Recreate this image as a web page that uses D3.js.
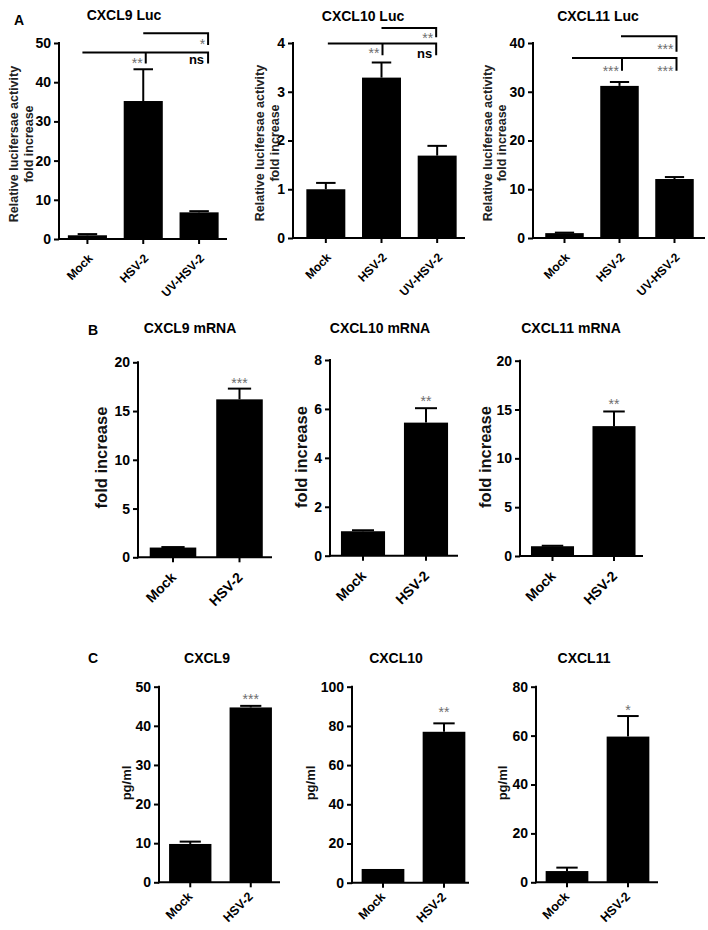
<!DOCTYPE html>
<html><head><meta charset="utf-8">
<script src="https://cdn.jsdelivr.net/npm/d3@7"></script>
<style>
body{margin:0;background:#fff}
svg{display:block}
text{font-family:"Liberation Sans",Arial,sans-serif}
</style>
</head><body>
<svg id="chart" width="708" height="930"></svg>
<script>
// ---------------- DATA ----------------
const lucCategories  = ["Mock", "HSV-2", "UV-HSV-2"];
const pairCategories = ["Mock", "HSV-2"];

// Row A: luciferase reporter (fold increase)
const cxcl9LucMean  = [0.95, 35.2, 6.8];
const cxcl9LucErr   = [0.3, 8.1, 0.3];
const cxcl10LucMean = [1.0, 3.29, 1.69];
const cxcl10LucErr  = [0.13, 0.31, 0.20];
const cxcl11LucMean = [1.0, 31.2, 12.1];
const cxcl11LucErr  = [0.1, 0.8, 0.4];

// Row B: mRNA (fold increase)
const cxcl9MrnaMean  = [1.0, 16.2];
const cxcl9MrnaErr   = [0.05, 1.1];
const cxcl10MrnaMean = [1.0, 5.44];
const cxcl10MrnaErr  = [0.04, 0.59];
const cxcl11MrnaMean = [1.0, 13.3];
const cxcl11MrnaErr  = [0.05, 1.5];

// Row C: protein (pg/ml)
const cxcl9ProtMean  = [9.8, 44.7];
const cxcl9ProtErr   = [0.6, 0.4];
const cxcl10ProtMean = [7.0, 77.0];
const cxcl10ProtErr  = [0.0, 4.3];
const cxcl11ProtMean = [4.6, 59.6];
const cxcl11ProtErr  = [1.4, 8.4];

// Tick labels
const ticksLuc9  = [0, 10, 20, 30, 40, 50];
const ticksLuc10 = [0, 1, 2, 3, 4];
const ticksLuc11 = [0, 10, 20, 30, 40];
const ticksMrna9  = [0, 5, 10, 15, 20];
const ticksMrna10 = [0, 2, 4, 6, 8];
const ticksMrna11 = [0, 5, 10, 15, 20];
const ticksProt9  = [0, 10, 20, 30, 40, 50];
const ticksProt10 = [0, 20, 40, 60, 80, 100];
const ticksProt11 = [0, 20, 40, 60, 80];

// Significance (bracket levels in data units)
const sigLuc9  = {top: {level: 52.5, drop: 49.5, label: "*"},   low: {level: 47.6, drop: 44.8, left: "**",  right: "ns"}};
const sigLuc10 = {top: {level: 4.31, drop: 4.12, label: "**"},  low: {level: 3.99, drop: 3.75, left: "**",  right: "ns"}};
const sigLuc11 = {top: {level: 41.4, drop: 38.2, label: "***"}, low: {level: 36.9, drop: 34.3, left: "***", right: "***"}};
const sigMrna = ["***", "**", "**"];
const sigProt = ["***", "**", "*"];

// ---------------- LAYOUT ----------------
const rowA = {tickFs: 14, xFs: 12, xdx: 6, xdy: 20, ylFs: 12.5};
const rowB = {tickFs: 14, xFs: 14, xdx: 4, xdy: 21, ylFs: 16.5};
const rowC = {tickFs: 14, xFs: 12.5, xdx: 3, xdy: 15, ylFs: 13};

const panels = [
  {row: rowA, title: "CXCL9 Luc",  tx: 124, ty: 20, cats: lucCategories, mean: cxcl9LucMean,  err: cxcl9LucErr,  ticks: ticksLuc9,
   axisX: 59, xEnd: 227, yTop: 43, y0: 239, band: [59.5, 227],
   ylab: ["Relative lucifersae activity", "fold increase"], ylx: [14, 29], yly: 144,
   sig: sigLuc9, br: {topL: 0, right: 9, lowL: -5, tick: 2.5, starOff: 15.5, nsOff: 11.7}},
  {row: rowA, title: "CXCL10 Luc", tx: 363, ty: 21, cats: lucCategories, mean: cxcl10LucMean, err: cxcl10LucErr, ticks: ticksLuc10,
   axisX: 293, xEnd: 465, yTop: 43, y0: 238, band: [298, 465],
   ylab: ["Relative lucifersae activity", "fold increase"], ylx: [259.5, 275], yly: 143,
   sig: sigLuc10, br: {topL: 0, right: -1, lowL: 2, tick: 1, starOff: 15, nsOff: 14.7}},
  {row: rowA, title: "CXCL11 Luc", tx: 598, ty: 21, cats: lucCategories, mean: cxcl11LucMean, err: cxcl11LucErr, ticks: ticksLuc11,
   axisX: 533, xEnd: 705, yTop: 43, y0: 238, band: [537, 702],
   ylab: ["Relative lucifersae activity", "fold increase"], ylx: [487.5, 502], yly: 143,
   sig: sigLuc11, br: {topL: 1.5, right: 2, lowL: 7.5, tick: 2.5, starOff: 17.5, nsOff: 14}},

  {row: rowB, title: "CXCL9 mRNA",  tx: 190, ty: 333, cats: pairCategories, mean: cxcl9MrnaMean,  err: cxcl9MrnaErr,  ticks: ticksMrna9,
   axisX: 138, xEnd: 272, yTop: 362.3, y0: 557.3, band: [139.75, 272.75],
   ylab: ["fold increase"], ylx: [101.5], yly: 457.5, star: sigMrna[0], starGap: 9},
  {row: rowB, title: "CXCL10 mRNA", tx: 380, ty: 333, cats: pairCategories, mean: cxcl10MrnaMean, err: cxcl10MrnaErr, ticks: ticksMrna10,
   axisX: 330, xEnd: 458, yTop: 360, y0: 555.7, band: [331.5, 457.5],
   ylab: ["fold increase"], ylx: [301.5], yly: 457, star: sigMrna[1], starGap: 10},
  {row: rowB, title: "CXCL11 mRNA", tx: 571, ty: 333, cats: pairCategories, mean: cxcl11MrnaMean, err: cxcl11MrnaErr, ticks: ticksMrna11,
   axisX: 520, xEnd: 643, yTop: 360.7, y0: 556, band: [521.75, 644.75],
   ylab: ["fold increase"], ylx: [485], yly: 457, star: sigMrna[2], starGap: 10},

  {row: rowC, title: "CXCL9",  tx: 207, ty: 663, cats: pairCategories, mean: cxcl9ProtMean,  err: cxcl9ProtErr,  ticks: ticksProt9,
   axisX: 159, xEnd: 280, yTop: 686.7, y0: 882.3, band: [160, 281],
   ylab: ["pg/ml"], ylx: [126], yly: 783, star: sigProt[0], starGap: 9.5},
  {row: rowC, title: "CXCL10", tx: 396, ty: 663, cats: pairCategories, mean: cxcl10ProtMean, err: cxcl10ProtErr, ticks: ticksProt10,
   axisX: 352, xEnd: 469, yTop: 686.7, y0: 882.7, band: [352.5, 474.5],
   ylab: ["pg/ml"], ylx: [310], yly: 783, star: sigProt[1], starGap: 14},
  {row: rowC, title: "CXCL11", tx: 584, ty: 663, cats: pairCategories, mean: cxcl11ProtMean, err: cxcl11ProtErr, ticks: ticksProt11,
   axisX: 536, xEnd: 658, yTop: 686.7, y0: 882.3, band: [536.5, 658.5],
   ylab: ["pg/ml"], ylx: [502], yly: 783, star: sigProt[2], starGap: 9}
];

const panelLetters = [
  {t: "A", x: 19, y: 25},
  {t: "B", x: 93, y: 335},
  {t: "C", x: 93, y: 663}
];

// ---------------- DRAW ----------------
const svg = d3.select("#chart");
const STAR_FS = 14, STAR_FILL = "#6e6e6e";

panelLetters.forEach(l => {
  svg.append("text").attr("x", l.x).attr("y", l.y).attr("text-anchor", "middle")
    .attr("font-size", 14).attr("font-weight", "bold").text(l.t);
});

panels.forEach(p => {
  const g = svg.append("g");
  const y = d3.scaleLinear().domain([0, p.ticks[p.ticks.length - 1]]).range([p.y0, p.yTop]);
  const x = d3.scaleBand().domain(p.cats).range(p.band).paddingInner(0.3).paddingOuter(0.15);
  const bw = x.bandwidth();
  const cx = c => x(c) + bw / 2;
  const rows = p.cats.map((c, i) => ({c, m: p.mean[i], e: p.err[i]}));

  // title
  g.append("text").attr("x", p.tx).attr("y", p.ty).attr("text-anchor", "middle")
    .attr("font-size", 14).attr("font-weight", "bold").text(p.title);

  // y label(s)
  p.ylab.forEach((t, i) => {
    g.append("text")
      .attr("transform", `translate(${p.ylx[i]},${p.yly}) rotate(-90)`)
      .attr("dy", "0.35em").attr("text-anchor", "middle")
      .attr("font-size", p.row.ylFs)
      .attr("font-weight", "bold").attr("fill", p.row === rowA ? "#222" : "#111")
      .text(t);
  });

  // bars
  g.selectAll("rect.bar").data(rows).join("rect").attr("class", "bar")
    .attr("x", d => x(d.c)).attr("width", bw)
    .attr("y", d => y(d.m)).attr("height", d => p.y0 - y(d.m))
    .attr("fill", "#000");

  // error bars (upper only)
  const eb = g.selectAll("g.eb").data(rows.filter(d => d.e > 0)).join("g").attr("class", "eb");
  eb.append("line").attr("x1", d => cx(d.c)).attr("x2", d => cx(d.c))
    .attr("y1", d => y(d.m)).attr("y2", d => y(d.m + d.e))
    .attr("stroke", "#000").attr("stroke-width", 2);
  eb.append("line").attr("x1", d => cx(d.c) - bw / 4).attr("x2", d => cx(d.c) + bw / 4)
    .attr("y1", d => y(d.m + d.e)).attr("y2", d => y(d.m + d.e))
    .attr("stroke", "#000").attr("stroke-width", 2);

  // y axis
  const ya = g.append("g").attr("transform", `translate(${p.axisX},0)`)
    .call(d3.axisLeft(y).tickValues(p.ticks).tickSize(5).tickPadding(3).tickFormat(d3.format("d")));
  ya.select(".domain").remove();
  ya.selectAll(".tick line").attr("stroke", "#000").attr("stroke-width", 2);
  ya.selectAll(".tick text").attr("font-size", p.row.tickFs).attr("font-weight", "bold")
    .attr("fill", "#000").attr("font-family", '"Liberation Sans",Arial,sans-serif');
  g.append("line").attr("x1", p.axisX).attr("x2", p.axisX).attr("y1", p.yTop - 1).attr("y2", p.y0 + 1)
    .attr("stroke", "#000").attr("stroke-width", 2);

  // x axis
  g.append("line").attr("x1", p.axisX - 1).attr("x2", p.xEnd).attr("y1", p.y0).attr("y2", p.y0)
    .attr("stroke", "#000").attr("stroke-width", 2);
  const xa = g.append("g").attr("transform", `translate(0,${p.y0})`)
    .call(d3.axisBottom(x).tickSize(5).tickFormat(""));
  xa.select(".domain").remove();
  xa.selectAll(".tick line").attr("stroke", "#000").attr("stroke-width", 2);
  g.selectAll("text.xl").data(p.cats).join("text").attr("class", "xl")
    .attr("transform", d => `translate(${cx(d) + p.row.xdx},${p.y0 + p.row.xdy}) rotate(-45)`)
    .attr("text-anchor", "end").attr("font-size", p.row.xFs).attr("font-weight", "bold")
    .text(d => d);

  // significance
  if (p.sig) {
    const c0 = p.cats[0], c1 = p.cats[1], c2 = p.cats[2];
    const rx = cx(c2) + p.br.right;
    const t = p.sig.top, lo = p.sig.low;
    const topY = y(t.level), lowY = y(lo.level);
    const tickX = cx(c1) + p.br.tick;
    const path = d3.path();
    path.moveTo(cx(c1) + p.br.topL, topY); path.lineTo(rx, topY); path.lineTo(rx, y(t.drop));
    path.moveTo(cx(c0) + p.br.lowL, lowY); path.lineTo(rx, lowY); path.lineTo(rx, y(lo.drop));
    path.moveTo(tickX, lowY); path.lineTo(tickX, y(lo.drop));
    g.append("path").attr("d", path.toString()).attr("fill", "none")
      .attr("stroke", "#000").attr("stroke-width", 2);
    g.append("text").attr("x", rx - 3).attr("y", topY + p.br.starOff).attr("text-anchor", "end")
      .attr("font-size", STAR_FS).attr("fill", STAR_FILL).text(t.label);
    g.append("text").attr("x", tickX - 3).attr("y", lowY + p.br.starOff).attr("text-anchor", "end")
      .attr("font-size", STAR_FS).attr("fill", STAR_FILL).text(lo.left);
    if (lo.right === "ns") {
      g.append("text").attr("x", rx - 4).attr("y", lowY + p.br.nsOff).attr("text-anchor", "end")
        .attr("font-size", 13).attr("font-weight", "bold").attr("fill", "#000").text("ns");
    } else {
      g.append("text").attr("x", rx - 3).attr("y", lowY + p.br.starOff).attr("text-anchor", "end")
        .attr("font-size", STAR_FS).attr("fill", STAR_FILL).text(lo.right);
    }
  }
  if (p.star) {
    const d = rows[1];
    g.append("text").attr("x", cx(d.c)).attr("y", y(d.m + d.e) - p.starGap + 8)
      .attr("text-anchor", "middle").attr("font-size", STAR_FS).attr("fill", STAR_FILL).text(p.star);
  }
});
</script>
</body></html>
